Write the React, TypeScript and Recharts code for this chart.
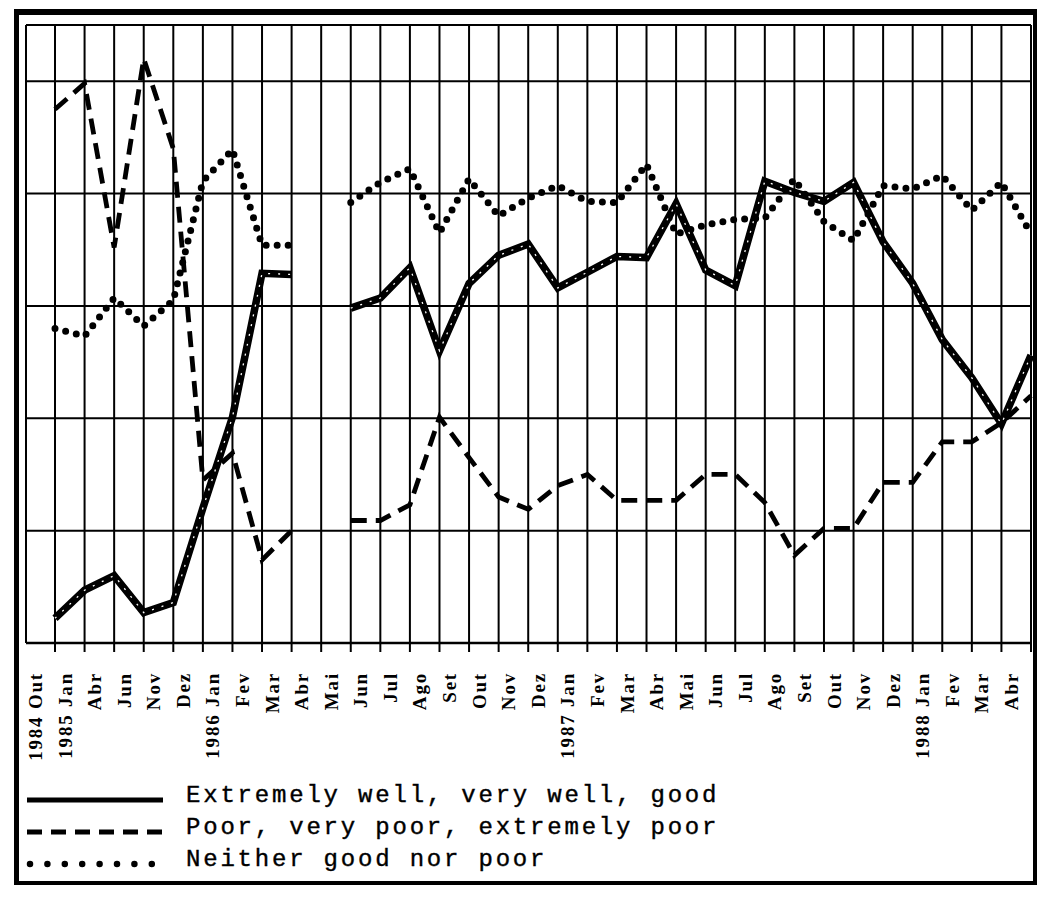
import React from "react";
import { LineChart, Line, XAxis, YAxis, CartesianGrid } from "recharts";

// survey months, Oct 1984 - Apr 1988 (Abr 1986 has no survey)
const months = [
  "1984 Out", "1985 Jan", "Abr", "Jun", "Nov", "Dez", "1986 Jan", "Fev", "Mar", "Abr",
  "Mai", "Jun", "Jul", "Ago", "Set", "Out", "Nov", "Dez", "1987 Jan", "Fev",
  "Mar", "Abr", "Mai", "Jun", "Jul", "Ago", "Set", "Out", "Nov", "Dez",
  "1988 Jan", "Fev", "Mar", "Abr",
];

const goodValues = [
  2.2, 4.7, 6.0, 2.7, 3.6, 12.0, 20.1, 32.9, 32.8, null,
  29.8, 30.7, 33.4, 26.0, 32.0, 34.5, 35.5, 31.6, 33.0, 34.4,
  34.3, 39.1, 33.2, 31.8, 41.1, 40.1, 39.3, 41.0, 35.7, 32.0,
  27.0, 23.6, 19.5, 25.6,
];

const poorValues = [
  47.5, 49.8, 35.2, 52.0, 44.0, 14.5, 16.9, 7.4, 10.0, null,
  10.9, 10.9, 12.3, 20.1, 16.5, 13.0, 11.9, 14.0, 15.0, 12.7,
  12.7, 12.7, 15.0, 15.0, 12.5, 7.8, 10.2, 10.2, 14.3, 14.3,
  17.9, 17.9, 19.6, 22.0,
];

const neitherValues = [
  28.0, 27.3, 30.7, 28.2, 30.5, 41.1, 43.9, 35.4, 35.4, null,
  39.2, 41.0, 42.2, 36.5, 41.3, 38.0, 39.6, 40.7, 39.3, 39.2,
  42.6, 36.4, 37.2, 37.7, 37.8, 41.3, 37.5, 35.8, 40.7, 40.4,
  41.6, 38.5, 41.0, 36.4,
];

const gridTicks = [0, 10, 20, 30, 40, 50];

const legendItems = [
  { label: "Extremely well, very well, good", kind: "solid" },
  { label: "Poor, very poor, extremely poor", kind: "dashed" },
  { label: "Neither good nor poor", kind: "dotted" },
];

const data = months.map((m, i) => ({
  i,
  good: goodValues[i],
  poor: poorValues[i],
  neither: neitherValues[i],
}));

const MonthTick = (props: any) => {
  const { x, y, payload } = props;
  return (
    <text
      transform={`translate(${x - 13},${y + 18}) rotate(-90)`}
      textAnchor="end"
      fontFamily="'Liberation Serif', serif"
      fontWeight="bold"
      fontSize={19}
      letterSpacing={1.8}
      fill="#000"
    >
      {months[payload.value]}
    </text>
  );
};

// y axis has no labels, only its grid lines
const NoTick = () => <g />;

const Legend = () => (
  <svg
    width={1039}
    height={897}
    style={{ position: "absolute", left: 0, top: 0, pointerEvents: "none" }}
  >
    {legendItems.map((item, k) => {
      const y = 800 + k * 32;
      return (
        <g key={item.label}>
          {item.kind === "solid" && (
            <line x1={27} x2={163} y1={y} y2={y} stroke="#000" strokeWidth={5} />
          )}
          {item.kind === "dashed" && (
            <line x1={27} x2={163} y1={y} y2={y} stroke="#000" strokeWidth={5} strokeDasharray="15 9" />
          )}
          {item.kind === "dotted" && (
            <line x1={30} x2={152} y1={y} y2={y} stroke="#000" strokeWidth={6.5} strokeDasharray="0 17.4" strokeLinecap="round" />
          )}
          <text
            x={186}
            y={y + 2}
            fontFamily="'Liberation Mono', monospace"
            fontSize={24}
            letterSpacing={2.8}
            stroke="#000"
            strokeWidth={0.4}
            fill="#000"
          >
            {item.label}
          </text>
        </g>
      );
    })}
  </svg>
);

export default function App() {
  return (
    <div style={{ position: "absolute", left: 0, top: 0, width: 1039, height: 897, background: "#fff" }}>
      <div
        style={{
          position: "absolute",
          left: 14,
          top: 9,
          width: 1014,
          height: 866,
          borderStyle: "solid",
          borderColor: "#000",
          borderWidth: "6px 4px 4px 5px",
        }}
      />
      <LineChart
        width={1039}
        height={897}
        data={data}
        margin={{ top: 25, right: 8, left: 26, bottom: 124 }}
        style={{ position: "absolute", left: 0, top: 0 }}
      >
        <CartesianGrid stroke="#000" strokeWidth={2} />
        <XAxis
          dataKey="i"
          type="category"
          interval={0}
          height={130}
          padding={{ left: 29, right: 0 }}
          tickSize={9}
          tick={<MonthTick />}
          axisLine={{ stroke: "#000", strokeWidth: 2.5 }}
          tickLine={{ stroke: "#000", strokeWidth: 2 }}
        />
        <YAxis
          domain={[0, 55]}
          ticks={gridTicks}
          width={0}
          tick={<NoTick />}
          tickLine={false}
          axisLine={{ stroke: "#000", strokeWidth: 2.5 }}
        />
        <Line
          dataKey="neither"
          type="linear"
          stroke="#000"
          strokeWidth={7}
          strokeDasharray="0 11"
          strokeLinecap="round"
          dot={false}
          activeDot={false}
          isAnimationActive={false}
        />
        <Line
          dataKey="poor"
          type="linear"
          stroke="#000"
          strokeWidth={4.8}
          strokeDasharray="16 9"
          dot={false}
          activeDot={false}
          isAnimationActive={false}
        />
        <Line
          dataKey="good"
          type="linear"
          stroke="#000"
          strokeWidth={7.5}
          dot={false}
          activeDot={false}
          isAnimationActive={false}
        />
        <Line
          dataKey="good"
          type="linear"
          stroke="#fff"
          strokeWidth={1.3}
          strokeDasharray="2 8"
          dot={false}
          activeDot={false}
          isAnimationActive={false}
        />
      </LineChart>
      <Legend />
    </div>
  );
}
